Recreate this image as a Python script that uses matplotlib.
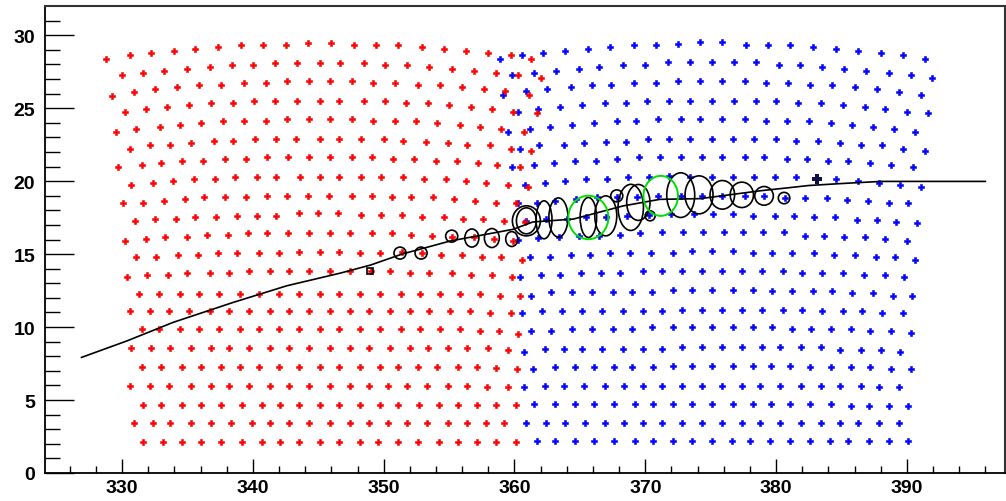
import matplotlib
import matplotlib.pyplot as plt
from matplotlib.patches import Ellipse

matplotlib.use('Agg')

# === data, one lattice row per line ===
red_x = [
    331.6, 333.1, 334.6, 336.0, 337.6, 339.2, 340.7, 342.1, 343.5, 345.1, 346.6, 348.2, 349.6, 351.1, 352.6, 354.2, 355.7, 357.1, 358.6, 360.1,
    330.9, 332.4, 333.7, 335.3, 336.8, 338.3, 339.9, 341.3, 342.8, 344.3, 345.9, 347.4, 348.9, 350.3, 351.8, 353.3, 354.9, 356.4, 357.8, 359.2,
    331.6, 333.0, 334.6, 336.0, 337.6, 339.2, 340.7, 342.1, 343.5, 345.1, 346.6, 348.2, 349.7, 351.1, 352.7, 354.2, 355.7, 357.1, 358.6, 360.1,
    330.6, 332.1, 333.6, 335.3, 336.8, 338.2, 339.7, 341.3, 342.8, 344.3, 345.9, 347.4, 348.9, 350.3, 351.8, 353.3, 354.9, 356.4, 357.9, 359.5,
    331.5, 333.0, 334.6, 336.0, 337.6, 339.0, 340.5, 342.0, 343.5, 345.1, 346.6, 348.2, 349.7, 351.1, 352.6, 354.1, 355.7, 357.1, 358.6, 360.2,
    330.7, 332.2, 333.7, 335.3, 336.8, 338.2, 339.7, 341.3, 342.8, 344.3, 345.9, 347.4, 348.9, 350.5, 352.0, 353.4, 354.9, 356.4, 358.0, 359.5,
    331.5, 332.8, 334.4, 335.9, 337.4, 339.0, 340.5, 342.0, 343.5, 345.1, 346.6, 348.2, 349.7, 351.3, 352.8, 354.3, 355.8, 357.4, 358.8, 360.3,
    330.6, 332.1, 333.6, 335.1, 336.7, 338.2, 339.7, 341.3, 342.8, 344.3, 345.9, 347.4, 348.9, 350.5, 352.0, 353.5, 355.1, 356.6, 358.1, 359.7,
    331.3, 332.8, 334.4, 335.9, 337.4, 339.0, 340.5, 342.0, 343.5, 345.1, 346.6, 348.2, 349.7, 351.3, 352.8, 354.3, 355.8, 357.4, 358.9, 360.4,
    330.4, 331.9, 333.5, 335.0, 336.7, 338.2, 339.7, 341.3, 342.8, 344.3, 345.9, 347.4, 349.0, 350.5, 352.0, 353.5, 355.2, 356.7, 358.3, 359.8,
    331.1, 332.6, 334.3, 335.8, 337.3, 338.8, 340.5, 342.0, 343.5, 345.1, 346.6, 348.2, 349.7, 351.4, 352.9, 354.4, 356.0, 357.5, 359.0, 360.6,
    330.2, 331.8, 333.3, 335.0, 336.5, 338.1, 339.6, 341.1, 342.7, 344.3, 345.9, 347.4, 349.1, 350.6, 352.1, 353.7, 355.2, 356.9, 358.4, 359.9,
    331.0, 332.5, 334.1, 335.6, 337.2, 338.8, 340.3, 341.8, 343.5, 345.0, 346.5, 348.3, 349.8, 351.4, 352.9, 354.6, 356.1, 357.6, 359.2, 360.8,
    330.1, 331.6, 333.2, 334.8, 336.3, 337.9, 339.5, 341.1, 342.6, 344.2, 345.8, 347.6, 349.1, 350.6, 352.1, 353.8, 355.4, 357.0, 358.6, 360.1,
    330.7, 332.4, 333.9, 335.5, 337.1, 338.6, 340.3, 341.8, 343.6, 345.1, 346.6, 348.3, 349.8, 351.5, 353.1, 354.8, 356.3, 357.8, 359.5, 361.0,
    329.7, 331.5, 333.0, 334.6, 336.2, 337.9, 339.5, 341.1, 342.7, 344.3, 345.9, 347.6, 349.1, 350.7, 352.3, 354.0, 355.6, 357.2, 358.7, 360.4,
    330.6, 332.1, 333.7, 335.3, 337.0, 338.5, 340.2, 341.8, 343.3, 345.1, 346.6, 348.3, 350.0, 351.5, 353.2, 354.9, 356.4, 358.1, 359.7, 361.3,
    329.5, 331.1, 332.9, 334.4, 336.0, 337.7, 339.3, 341.0, 342.6, 344.3, 345.9, 347.6, 349.2, 350.9, 352.5, 354.1, 355.8, 357.4, 359.0, 360.7,
    330.2, 331.8, 333.4, 335.1, 336.8, 338.5, 340.1, 341.7, 343.4, 345.1, 346.6, 348.5, 350.1, 351.7, 353.4, 355.0, 356.7, 358.3, 359.9, 361.7,
    329.2, 330.9, 332.5, 334.2, 335.9, 337.6, 339.3, 341.0, 342.6, 344.3, 345.9, 347.6, 349.2, 350.9, 352.6, 354.3, 356.0, 357.7, 359.3, 361.1,
    330.0, 331.6, 333.2, 335.0, 336.7, 338.4, 340.0, 341.7, 343.4, 345.1, 346.7, 348.5, 350.1, 351.8, 353.5, 355.2, 356.9, 358.6, 360.3, 362.0,
    328.8, 330.6, 332.2, 334.0, 335.6, 337.3, 339.1, 340.8, 342.5, 344.2, 346.0, 347.7, 349.4, 351.1, 352.9, 354.6, 356.3, 358.0, 359.7, 361.3,
]
red_y = [
    2.15, 2.15, 2.15, 2.15, 2.15, 2.15, 2.15, 2.15, 2.15, 2.15, 2.15, 2.15, 2.15, 2.15, 2.15, 2.15, 2.15, 2.15, 2.15, 2.15,
    3.40, 3.40, 3.40, 3.40, 3.40, 3.40, 3.40, 3.40, 3.40, 3.40, 3.40, 3.40, 3.40, 3.40, 3.40, 3.40, 3.40, 3.40, 3.40, 3.40,
    4.68, 4.68, 4.68, 4.68, 4.68, 4.68, 4.68, 4.68, 4.68, 4.68, 4.68, 4.68, 4.68, 4.68, 4.68, 4.68, 4.68, 4.68, 4.68, 4.68,
    5.96, 5.96, 5.96, 5.96, 5.96, 5.96, 5.96, 5.96, 5.96, 5.96, 5.96, 5.96, 5.96, 5.96, 5.96, 5.96, 5.96, 5.96, 5.87, 5.87,
    7.24, 7.24, 7.24, 7.24, 7.24, 7.24, 7.24, 7.24, 7.24, 7.24, 7.24, 7.24, 7.24, 7.24, 7.24, 7.24, 7.24, 7.24, 7.17, 7.12,
    8.54, 8.54, 8.54, 8.54, 8.54, 8.54, 8.54, 8.54, 8.54, 8.54, 8.54, 8.54, 8.54, 8.54, 8.54, 8.54, 8.54, 8.54, 8.54, 8.40,
    9.86, 9.86, 9.86, 9.86, 9.86, 9.86, 9.86, 9.86, 9.86, 9.86, 9.86, 9.86, 9.86, 9.86, 9.86, 9.86, 9.86, 9.71, 9.71, 9.55,
    11.12, 11.12, 11.12, 11.12, 11.12, 11.12, 11.12, 11.12, 11.12, 11.12, 11.12, 11.12, 11.12, 11.12, 11.12, 11.12, 11.12, 11.12, 10.96, 10.96,
    12.28, 12.28, 12.28, 12.28, 12.28, 12.28, 12.28, 12.28, 12.28, 12.28, 12.28, 12.28, 12.28, 12.28, 12.28, 12.28, 12.28, 12.28, 12.14, 12.14,
    13.40, 13.58, 13.58, 13.68, 13.68, 13.68, 13.82, 13.82, 13.82, 13.82, 13.82, 13.82, 13.82, 13.82, 13.68, 13.68, 13.68, 13.56, 13.56, 13.40,
    14.77, 14.77, 14.93, 14.93, 15.07, 15.07, 15.07, 15.07, 15.16, 15.16, 15.16, 15.05, 15.05, 15.12, 15.05, 14.93, 14.93, 14.82, 14.77, 14.61,
    15.91, 16.03, 16.14, 16.14, 16.30, 16.30, 16.42, 16.42, 16.42, 16.42, 16.42, 16.42, 16.42, 16.42, 16.30, 16.25, 16.18, 16.18, 16.03, 15.91,
    17.28, 17.40, 17.40, 17.51, 17.51, 17.62, 17.62, 17.62, 17.79, 17.79, 17.79, 17.67, 17.67, 17.67, 17.51, 17.51, 17.40, 17.40, 17.28, 17.17,
    18.49, 18.49, 18.61, 18.77, 18.88, 18.88, 18.88, 18.99, 18.99, 18.99, 18.99, 18.99, 18.99, 18.88, 18.88, 18.88, 18.77, 18.61, 18.49, 18.49,
    19.75, 19.86, 19.98, 20.14, 20.14, 20.25, 20.25, 20.25, 20.25, 20.25, 20.25, 20.25, 20.25, 20.25, 20.14, 20.14, 19.98, 19.86, 19.75, 19.57,
    20.94, 21.10, 21.21, 21.35, 21.35, 21.51, 21.51, 21.62, 21.62, 21.62, 21.62, 21.62, 21.62, 21.51, 21.51, 21.35, 21.35, 21.21, 21.10, 20.94,
    22.19, 22.47, 22.47, 22.60, 22.74, 22.74, 22.88, 22.88, 22.88, 22.88, 22.88, 22.88, 22.88, 22.77, 22.69, 22.60, 22.47, 22.47, 22.19, 22.03,
    23.40, 23.56, 23.72, 23.84, 23.97, 24.09, 24.09, 24.09, 24.25, 24.25, 24.25, 24.29, 24.13, 24.13, 24.13, 23.97, 23.84, 23.72, 23.56, 23.40,
    24.77, 24.93, 25.05, 25.21, 25.34, 25.34, 25.50, 25.50, 25.50, 25.50, 25.50, 25.50, 25.50, 25.34, 25.34, 25.21, 25.05, 24.93, 24.77, 24.66,
    25.84, 26.14, 26.30, 26.42, 26.58, 26.58, 26.71, 26.71, 26.85, 26.85, 26.85, 26.87, 26.71, 26.71, 26.58, 26.58, 26.42, 26.30, 26.18, 25.89,
    27.26, 27.40, 27.53, 27.67, 27.81, 27.95, 27.95, 28.08, 28.08, 28.08, 28.08, 28.08, 27.95, 27.95, 27.81, 27.67, 27.53, 27.40, 27.26, 27.10,
    28.36, 28.63, 28.81, 28.93, 29.04, 29.20, 29.34, 29.34, 29.34, 29.45, 29.45, 29.34, 29.34, 29.34, 29.20, 29.04, 28.93, 28.81, 28.63, 28.36,
]

blue_x = [
    361.7, 363.1, 364.6, 366.1, 367.6, 369.2, 370.6, 372.1, 373.6, 375.1, 376.6, 378.0, 379.5, 381.1, 382.6, 384.1, 385.5, 387.1, 388.6, 390.1,
    360.9, 362.4, 363.9, 365.4, 366.9, 368.4, 369.8, 371.3, 372.8, 374.3, 375.9, 377.4, 378.8, 380.3, 381.9, 383.4, 384.9, 386.3, 387.9, 389.4,
    361.5, 363.1, 364.6, 366.1, 367.6, 369.2, 370.6, 372.1, 373.6, 375.1, 376.7, 378.2, 379.6, 381.1, 382.6, 384.2, 385.7, 387.1, 388.6, 390.1,
    360.7, 362.3, 363.8, 365.3, 366.9, 368.4, 369.8, 371.3, 372.8, 374.3, 375.9, 377.4, 378.8, 380.3, 381.9, 383.4, 384.9, 386.5, 387.9, 389.4,
    361.4, 363.1, 364.6, 366.1, 367.6, 369.0, 370.6, 372.1, 373.6, 375.1, 376.7, 378.2, 379.6, 381.1, 382.6, 384.2, 385.7, 387.2, 388.8, 390.3,
    360.7, 362.3, 363.8, 365.2, 366.7, 368.3, 369.8, 371.3, 372.8, 374.3, 375.9, 377.4, 378.9, 380.3, 381.9, 383.4, 384.9, 386.5, 388.0, 389.5,
    361.3, 362.8, 364.4, 365.9, 367.5, 369.0, 370.5, 372.1, 373.6, 375.1, 376.7, 378.2, 379.7, 381.2, 382.7, 384.2, 385.7, 387.2, 388.8, 390.3,
    360.6, 362.1, 363.6, 365.2, 366.7, 368.3, 369.8, 371.3, 372.8, 374.3, 375.9, 377.4, 378.9, 380.5, 382.0, 383.5, 385.1, 386.6, 388.1, 389.7,
    361.3, 362.8, 364.4, 365.9, 367.5, 369.0, 370.5, 372.1, 373.6, 375.1, 376.7, 378.2, 379.7, 381.2, 382.8, 384.3, 385.8, 387.4, 388.9, 390.4,
    360.4, 362.0, 363.5, 365.1, 366.6, 368.1, 369.8, 371.3, 372.8, 374.3, 375.9, 377.4, 378.9, 380.5, 382.0, 383.5, 385.1, 386.7, 388.3, 389.8,
    361.2, 362.7, 364.3, 365.8, 367.3, 368.8, 370.4, 372.1, 373.6, 375.1, 376.7, 378.2, 379.7, 381.2, 382.9, 384.4, 386.0, 387.6, 389.1, 390.6,
    360.3, 361.8, 363.4, 364.9, 366.5, 368.1, 369.6, 371.3, 372.9, 374.4, 376.0, 377.5, 379.0, 380.6, 382.2, 383.7, 385.2, 386.8, 388.3, 390.0,
    360.9, 362.4, 364.0, 365.5, 367.0, 368.6, 370.3, 372.0, 373.7, 375.2, 376.7, 378.2, 379.9, 381.4, 382.9, 384.5, 386.2, 387.7, 389.2, 390.8,
    360.3, 361.7, 363.1, 364.7, 366.3, 367.8, 369.4, 371.0, 372.7, 374.3, 375.9, 377.6, 379.1, 380.7, 382.2, 383.9, 385.4, 387.0, 388.6, 390.1,
    360.8, 362.3, 363.9, 365.5, 367.1, 368.7, 370.3, 371.8, 373.4, 375.1, 376.7, 378.3, 379.9, 381.5, 383.1, 384.6, 386.3, 387.9, 389.5, 391.1,
    359.8, 361.5, 363.0, 364.6, 366.2, 367.8, 369.5, 371.1, 372.7, 374.3, 375.9, 377.6, 379.1, 380.8, 382.4, 384.0, 385.5, 387.2, 388.8, 390.5,
    360.4, 361.9, 363.8, 365.3, 367.0, 368.5, 370.2, 371.8, 373.4, 375.1, 376.7, 378.3, 380.0, 381.5, 383.2, 384.9, 386.5, 388.1, 389.7, 391.4,
    359.5, 361.2, 362.7, 364.4, 366.1, 367.8, 369.3, 371.0, 372.7, 374.2, 375.9, 377.6, 379.2, 380.8, 382.5, 384.2, 385.8, 387.4, 389.0, 390.6,
    360.3, 361.8, 363.5, 365.2, 366.9, 368.5, 370.1, 371.8, 373.4, 375.1, 376.8, 378.5, 380.0, 381.7, 383.4, 385.1, 386.8, 388.3, 390.0, 391.6,
    359.1, 360.9, 362.5, 364.3, 365.9, 367.4, 369.1, 370.8, 372.5, 374.2, 375.9, 377.6, 379.2, 380.9, 382.6, 384.3, 386.0, 387.7, 389.4, 391.1,
    359.8, 361.5, 363.2, 364.9, 366.5, 368.3, 370.0, 371.7, 373.4, 375.1, 376.8, 378.5, 380.2, 381.8, 383.5, 385.2, 386.9, 388.6, 390.3, 391.9,
    358.9, 360.6, 362.2, 363.9, 365.6, 367.3, 369.1, 370.8, 372.5, 374.2, 375.9, 377.7, 379.4, 381.1, 382.8, 384.6, 386.3, 388.0, 389.7, 391.4,
]
blue_y = [
    2.17, 2.17, 2.17, 2.17, 2.17, 2.17, 2.17, 2.17, 2.17, 2.17, 2.17, 2.17, 2.17, 2.17, 2.17, 2.17, 2.17, 2.17, 2.17, 2.17,
    3.45, 3.45, 3.45, 3.45, 3.45, 3.45, 3.45, 3.45, 3.45, 3.45, 3.45, 3.45, 3.45, 3.45, 3.45, 3.45, 3.45, 3.45, 3.45, 3.45,
    4.70, 4.70, 4.70, 4.70, 4.70, 4.70, 4.70, 4.70, 4.70, 4.70, 4.70, 4.70, 4.70, 4.70, 4.70, 4.70, 4.61, 4.61, 4.61, 4.61,
    5.87, 5.98, 5.98, 5.98, 5.98, 5.98, 5.98, 5.98, 5.98, 5.98, 5.98, 5.98, 5.98, 5.98, 5.98, 5.98, 5.98, 5.98, 5.87, 5.87,
    7.12, 7.24, 7.24, 7.24, 7.24, 7.24, 7.24, 7.35, 7.35, 7.35, 7.35, 7.35, 7.35, 7.35, 7.24, 7.24, 7.24, 7.24, 7.12, 7.12,
    8.31, 8.49, 8.49, 8.49, 8.49, 8.49, 8.49, 8.49, 8.61, 8.61, 8.61, 8.61, 8.61, 8.61, 8.61, 8.61, 8.45, 8.45, 8.45, 8.31,
    9.71, 9.71, 9.86, 9.86, 9.86, 9.86, 9.98, 9.98, 9.98, 9.98, 9.98, 9.98, 9.98, 9.86, 9.86, 9.86, 9.86, 9.71, 9.71, 9.57,
    10.96, 11.12, 11.12, 11.12, 11.12, 11.12, 11.12, 11.12, 11.19, 11.19, 11.19, 11.19, 11.19, 11.19, 11.19, 11.07, 11.07, 11.07, 10.94, 10.94,
    12.14, 12.37, 12.37, 12.37, 12.37, 12.37, 12.37, 12.56, 12.56, 12.56, 12.56, 12.56, 12.44, 12.44, 12.44, 12.44, 12.31, 12.31, 12.14, 12.14,
    13.40, 13.56, 13.56, 13.68, 13.68, 13.68, 13.82, 13.82, 13.82, 13.82, 13.82, 13.82, 13.82, 13.82, 13.68, 13.68, 13.68, 13.56, 13.56, 13.40,
    14.77, 14.77, 14.93, 14.93, 15.05, 15.05, 15.05, 15.05, 15.18, 15.18, 15.18, 15.05, 15.05, 15.05, 15.05, 14.93, 14.93, 14.77, 14.77, 14.61,
    15.95, 16.09, 16.20, 16.25, 16.25, 16.30, 16.42, 16.48, 16.48, 16.48, 16.48, 16.48, 16.48, 16.48, 16.25, 16.25, 16.14, 16.14, 16.03, 15.91,
    17.28, 17.40, 17.40, 17.51, 17.51, 17.62, 17.67, 17.74, 17.74, 17.74, 17.74, 17.62, 17.62, 17.62, 17.51, 17.51, 17.35, 17.35, 17.21, 17.10,
    18.49, 18.49, 18.61, 18.77, 18.88, 18.88, 18.88, 18.99, 18.99, 18.99, 18.99, 18.99, 18.99, 18.84, 18.84, 18.84, 18.72, 18.61, 18.49, 18.49,
    19.75, 19.86, 20.02, 20.14, 20.14, 20.25, 20.25, 20.36, 20.25, 20.25, 20.25, 20.25, 20.25, 20.25, 20.14, 20.14, 20.02, 19.86, 19.75, 19.57,
    20.94, 21.10, 21.21, 21.35, 21.35, 21.51, 21.62, 21.62, 21.62, 21.62, 21.62, 21.62, 21.62, 21.51, 21.51, 21.35, 21.35, 21.21, 21.10, 20.94,
    22.19, 22.47, 22.47, 22.60, 22.69, 22.69, 22.88, 22.88, 22.88, 22.88, 22.88, 22.88, 22.88, 22.72, 22.72, 22.60, 22.47, 22.47, 22.19, 22.03,
    23.40, 23.56, 23.72, 23.84, 23.97, 24.09, 24.09, 24.25, 24.25, 24.25, 24.25, 24.25, 24.09, 24.09, 24.09, 23.97, 23.84, 23.72, 23.56, 23.40,
    24.77, 24.93, 25.05, 25.21, 25.34, 25.34, 25.50, 25.50, 25.50, 25.50, 25.50, 25.50, 25.50, 25.34, 25.34, 25.21, 25.05, 24.93, 24.77, 24.66,
    25.89, 26.18, 26.30, 26.42, 26.58, 26.58, 26.71, 26.71, 26.87, 26.87, 26.87, 26.87, 26.71, 26.71, 26.58, 26.58, 26.42, 26.30, 26.14, 25.89,
    27.26, 27.40, 27.53, 27.67, 27.81, 27.95, 27.95, 28.13, 28.13, 28.13, 28.13, 28.13, 27.96, 27.96, 27.81, 27.67, 27.53, 27.40, 27.26, 27.10,
    28.36, 28.63, 28.81, 28.93, 29.04, 29.20, 29.34, 29.34, 29.38, 29.50, 29.50, 29.34, 29.34, 29.34, 29.20, 29.04, 28.93, 28.81, 28.63, 28.36,
]

# track line
track_x = [326.9, 330.4, 333.9, 338.5, 342.6, 346.7, 349.0, 351.4, 355.1, 359.9, 361.4, 364.5, 368.3,
           371.1, 374.2, 378.8, 381.1, 382.5, 385.1, 388.0, 396.0]
track_y = [7.92, 9.06, 10.32, 11.69, 12.83, 13.70, 14.25, 15.00, 15.90, 16.70, 17.20, 17.40, 18.30,
           18.75, 18.80, 19.34, 19.56, 19.70, 19.84, 19.98, 19.98]

# hit rings (centre, half widths)
ring_x = [351.25, 352.86, 355.20, 356.74, 358.27, 359.79, 360.91, 360.91, 362.26, 363.36, 365.65, 366.98,
          367.82, 368.89, 369.47, 370.37, 372.71, 374.11, 375.89, 377.38, 379.08, 380.61]
ring_y = [15.07, 15.07, 16.23, 16.10, 16.10, 16.03, 17.28, 17.28, 17.35, 17.51, 17.51, 17.62,
          18.99, 18.20, 18.54, 17.62, 19.04, 19.06, 19.06, 19.06, 18.99, 18.84]
ring_rx = [0.46, 0.46, 0.46, 0.54, 0.57, 0.46, 1.07, 0.76, 0.61, 0.73, 0.63, 0.84,
           0.46, 0.97, 0.89, 0.38, 1.07, 1.07, 0.94, 0.89, 0.71, 0.44]
ring_ry = [0.41, 0.41, 0.41, 0.62, 0.65, 0.51, 1.03, 0.89, 1.30, 1.34, 1.37, 1.37,
           0.41, 1.58, 1.23, 0.34, 1.53, 1.30, 0.98, 0.87, 0.64, 0.39]

green_x = [365.65, 371.18]
green_y = [17.51, 18.99]
green_rx = [1.53, 1.32]
green_ry = [1.49, 1.37]

box_x = [348.96]
box_y = [13.84]
hit_x = [383.1]
hit_y = [20.14]

# === drawing ===
plt.rcParams['font.family'] = ['Liberation Sans', 'DejaVu Sans']

fig = plt.figure(figsize=(10.06, 5.02), dpi=100)
ax = fig.add_axes([45 / 1006, 28 / 502, 960 / 1006, 467 / 502])

ax.plot(blue_x, blue_y, linestyle='none', marker='P', markersize=5.0,
        markeredgewidth=0.4, color='#0000ff', zorder=2)
ax.plot(red_x, red_y, linestyle='none', marker='P', markersize=5.0,
        markeredgewidth=0.4, color='#ff0000', zorder=2)

ax.plot(track_x, track_y, color='black', linewidth=1.2, zorder=3)

for x, y, rx, ry in zip(ring_x, ring_y, ring_rx, ring_ry):
    ax.add_patch(Ellipse((x, y), 2 * rx, 2 * ry, fill=False,
                         edgecolor='black', linewidth=1.2, zorder=4))
for x, y, rx, ry in zip(green_x, green_y, green_rx, green_ry):
    ax.add_patch(Ellipse((x, y), 2 * rx, 2 * ry, fill=False,
                         edgecolor='#00e000', linewidth=1.4, zorder=5))

ax.plot(box_x, box_y, linestyle='none', marker='s', markersize=5,
        markerfacecolor='none', markeredgecolor='black', markeredgewidth=1.2, zorder=5)
ax.plot(hit_x, hit_y, linestyle='none', marker='P', markersize=6.5,
        markeredgewidth=0, color='#101040', zorder=5)

ax.set_xlim(324.11, 397.5)
ax.set_ylim(0, 32)
ax.set_xticks(range(330, 391, 10))
ax.set_xticks(range(326, 398, 2), minor=True)
ax.set_yticks(range(0, 31, 5))
ax.set_yticks(range(0, 32, 1), minor=True)

ax.tick_params(axis='both', which='both', direction='in', top=False, right=False,
               color='black', width=1.0, labelsize=14)
ax.tick_params(axis='x', which='major', length=10, pad=4)
ax.tick_params(axis='x', which='minor', length=5)
ax.tick_params(axis='y', which='major', length=21, pad=7)
ax.tick_params(axis='y', which='minor', length=10.5)
for lab in ax.get_xticklabels() + ax.get_yticklabels():
    lab.set_fontweight('bold')

for side in ['left', 'bottom']:
    ax.spines[side].set_linewidth(1.3)
for side in ['top', 'right']:
    ax.spines[side].set_linewidth(1.5)
    ax.spines[side].set_color('#333333')

fig.savefig('out.png', dpi=100)
